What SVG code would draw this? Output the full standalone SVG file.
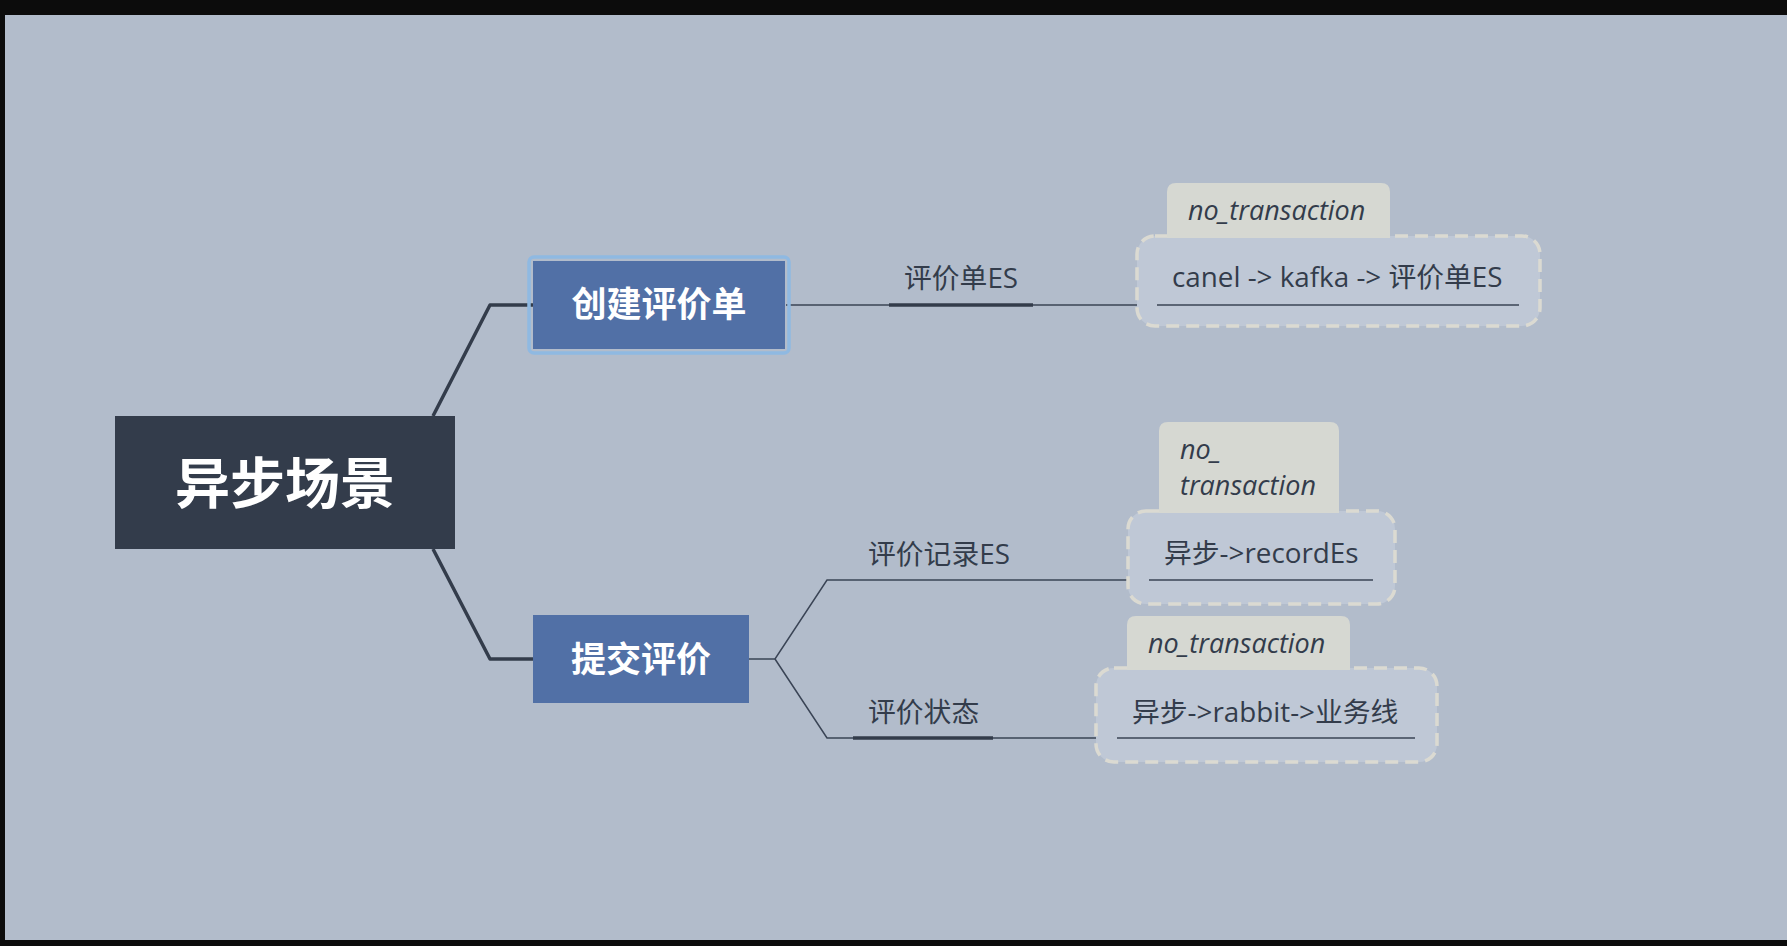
<svg xmlns="http://www.w3.org/2000/svg" width="1787" height="946" viewBox="0 0 1787 946">
<style>
.cjk{font-family:"Noto Sans CJK SC","Noto Sans",sans-serif;}
.lbl{font-family:"Open Sans","Noto Sans CJK SC",sans-serif;font-size:27.8px;fill:#333c4b;}
.tagt{font-family:"Open Sans","Noto Sans",sans-serif;font-size:27px;font-style:italic;fill:#333c4b;}
.title{font-family:"Noto Sans CJK SC",sans-serif;font-weight:bold;fill:#ffffff;text-anchor:middle;}
.main{fill:none;stroke:#333c4b;stroke-width:3.5;stroke-linejoin:round;}
.thin{fill:none;stroke:#3a4455;stroke-width:1.5;}
.thick{fill:none;stroke:#333c4b;stroke-width:3.5;}
.box{fill:#bfc8d6;stroke:#dbdad2;stroke-width:3.5;stroke-dasharray:13 7;}
.tag{fill:#d6d8d2;}
</style>
<rect x="0" y="0" width="1787" height="946" fill="#0c0c0c"/>
<rect x="5" y="15" width="1782" height="925" fill="#b2bccb"/>

<g id="connectors">
  <path class="main" d="M433,416 L490,305 L533,305"/>
  <path class="main" d="M433,549 L490,659 L533,659"/>
  <path class="thin" d="M786,305 L1157,305"/>
  <path class="thick" d="M889,305 L1033,305"/>
  <path class="thin" d="M749,659 L775,659 L827,580 L1149,580"/>
  <path class="thin" d="M775,659 L827,738 L1117,738"/>
  <path class="thick" d="M853,738 L993,738"/>
</g>

<g id="root">
  <rect x="115" y="416" width="340" height="133" fill="#333c4b"/>
  <text class="title" x="285" y="503" font-size="55">异步场景</text>
</g>

<g id="node-create">
  <rect x="529" y="257" width="260" height="96" rx="5" fill="none" stroke="#8fb9e2" stroke-width="3.5"/>
  <rect x="533" y="261" width="252" height="88" fill="#5170a6"/>
  <text class="title" x="659" y="317" font-size="35">创建评价单</text>
</g>

<g id="node-submit">
  <rect x="533" y="615" width="216" height="88" fill="#5170a6"/>
  <text class="title" x="641" y="672" font-size="35">提交评价</text>
</g>

<g id="label-es">
  <text class="lbl" x="904" y="288">评价单ES</text>
</g>

<g id="label-record">
  <text class="lbl" x="868" y="564">评价记录ES</text>
</g>

<g id="label-status">
  <text class="lbl" x="868" y="722">评价状态</text>
</g>

<g id="detail-1">
  <rect class="box" x="1137" y="236" width="403" height="90" rx="18"/>
  <path class="tag" d="M1167,238 L1167,192 Q1167,183 1176,183 L1381,183 Q1390,183 1390,192 L1390,238 Z"/>
  <text class="tagt" x="1188" y="220">no_transaction</text>
  <path class="thin" d="M1157,305 L1519,305"/>
  <text class="lbl" x="1172" y="287">canel -&gt; kafka -&gt; 评价单ES</text>
</g>

<g id="detail-2">
  <rect class="box" x="1128" y="511" width="267" height="93" rx="18"/>
  <path class="tag" d="M1159,513 L1159,431 Q1159,422 1168,422 L1330,422 Q1339,422 1339,431 L1339,513 Z"/>
  <text class="tagt" x="1180" y="459">no_</text>
  <text class="tagt" x="1180" y="495">transaction</text>
  <path class="thin" d="M1149,580 L1373,580"/>
  <text class="lbl" x="1164" y="563">异步-&gt;recordEs</text>
</g>

<g id="detail-3">
  <rect class="box" x="1096" y="668" width="341" height="94" rx="18"/>
  <path class="tag" d="M1127,670 L1127,625 Q1127,616 1136,616 L1341,616 Q1350,616 1350,625 L1350,670 Z"/>
  <text class="tagt" x="1148" y="653">no_transaction</text>
  <path class="thin" d="M1117,738 L1415,738"/>
  <text class="lbl" x="1132" y="722">异步-&gt;rabbit-&gt;业务线</text>
</g>
</svg>
